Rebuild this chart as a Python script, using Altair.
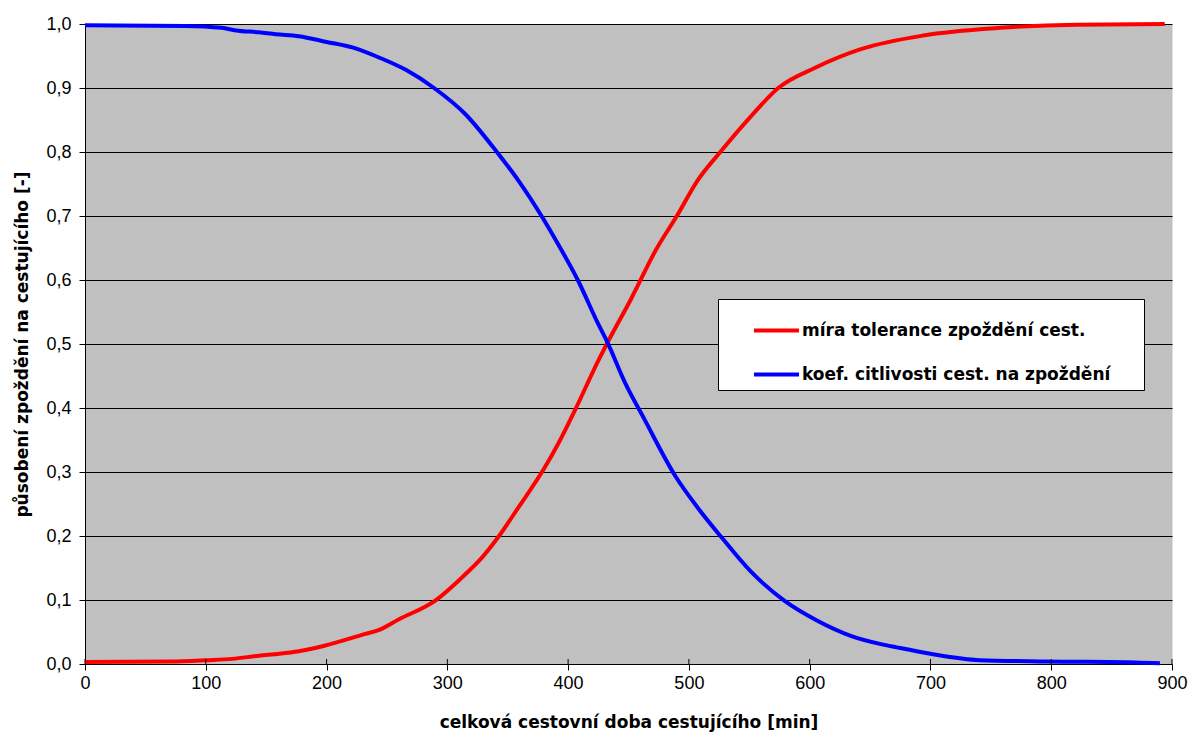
import altair as alt
import pandas as pd

# --- data ---
red_label = "míra tolerance zpoždění cest."
blue_label = "koef. citlivosti cest. na zpoždění"

red_x = [0, 70, 100, 122, 144, 161, 177, 199, 232, 243, 260, 290, 312, 329, 342, 359,
         380, 392, 406, 425, 432, 452, 473, 490, 507, 526, 551, 574, 605, 643, 694, 758, 821, 894]
red_y = [0.003, 0.004, 0.006, 0.008, 0.013, 0.016, 0.020, 0.029, 0.047, 0.053, 0.070, 0.099,
         0.135, 0.167, 0.198, 0.245, 0.305, 0.345, 0.398, 0.474, 0.500, 0.570, 0.648, 0.700,
         0.755, 0.800, 0.855, 0.900, 0.932, 0.961, 0.982, 0.994, 0.999, 1.000]

blue_x = [0, 83, 113, 125, 144, 158, 177, 200, 222, 243, 266, 289, 315, 341, 359, 378, 392, 408,
          425, 432, 447, 463, 489, 507, 527, 551, 579, 606, 634, 659, 672, 700, 741, 796, 870, 890]
blue_y = [0.998, 0.997, 0.994, 0.990, 0.987, 0.984, 0.981, 0.972, 0.963, 0.948, 0.928, 0.900,
          0.859, 0.800, 0.755, 0.700, 0.655, 0.600, 0.531, 0.505, 0.440, 0.383, 0.293, 0.245,
          0.198, 0.145, 0.099, 0.068, 0.044, 0.031, 0.026, 0.016, 0.006, 0.004, 0.0025, 0.001]

x_ticks = [0, 100, 200, 300, 400, 500, 600, 700, 800, 900]
y_ticks = [0.0, 0.1, 0.2, 0.3, 0.4, 0.5, 0.6, 0.7, 0.8, 0.9, 1.0]

x_title = "celková cestovní doba cestujícího [min]"
y_title = "působení zpoždění na cestujícího [-]"

df = pd.concat([
    pd.DataFrame({"x": red_x, "y": red_y, "series": red_label}),
    pd.DataFrame({"x": blue_x, "y": blue_y, "series": blue_label}),
])
ticks_df = pd.DataFrame({"t": x_ticks})

FONT = "Liberation Sans"
TFONT = "DejaVu Sans"
W, H = 1087, 640

x_scale = alt.Scale(domain=[0, 900], nice=False, zero=False)
y_scale = alt.Scale(domain=[0, 1], nice=False)

x_axis = alt.Axis(values=x_ticks, grid=False, title=x_title,
                  titleY=58, titleBaseline="middle", labelFlush=False,
                  tickSize=6, labelPadding=4)

pad_chars = "\u2800" * 2

lines = alt.Chart(df).mark_line(strokeWidth=4, interpolate="monotone").encode(
    x=alt.X("x:Q", scale=x_scale, axis=x_axis),
    y=alt.Y("y:Q", scale=y_scale,
            axis=alt.Axis(values=y_ticks, grid=True, gridColor="#000000", gridWidth=1,
                          gridOpacity=1, title=y_title, titleX=-63, titleY=H / 2,
                          titleAngle=-90, titleBaseline="middle", titleAlign="center",
                          tickSize=6, labelPadding=8,
                          labelExpr="replace(format(datum.value, '.1f'), '.', ',')")),
    color=alt.Color("series:N",
                    scale=alt.Scale(domain=[red_label, blue_label], range=["#FF0000", "#0000FF"]),
                    sort=[red_label, blue_label],
                    legend=alt.Legend(title=None, orient="none", legendX=633, legendY=275,
                                      fillColor="#FFFFFF", strokeColor="#000000",
                                      padding=7, symbolType="stroke", symbolSize=2025,
                                      symbolStrokeWidth=4, symbolOffset=27, labelOffset=1,
                                      rowPadding=11, labelFont=TFONT, labelFontSize=17,
                                      labelFontWeight="bold", labelColor="#000000",
                                      labelLimit=600,
                                      labelExpr="datum.label + '" + pad_chars + "'")),
)

inner_ticks = alt.Chart(ticks_df).mark_rule(color="#000000", strokeWidth=1).encode(
    x=alt.X("t:Q", scale=x_scale, axis=x_axis),
    y=alt.value(H - 5),
    y2=alt.value(H),
)

chart = alt.layer(lines, inner_ticks).properties(
    width=W, height=H,
    autosize=alt.AutoSizeParams(type="none"),
    padding={"left": 77, "top": 16, "right": 16, "bottom": 68},
    background="#FFFFFF",
).configure_view(
    fill="#C0C0C0", stroke="transparent"
).configure_axis(
    domainColor="#000000", domainWidth=1, tickColor="#000000", tickWidth=1,
    labelFont=FONT, labelFontSize=18, labelColor="#000000",
    titleFont=TFONT, titleFontSize=17, titleFontWeight="bold", titleColor="#000000",
)

chart.save("out.html", embed_options={"renderer": "svg", "actions": False})
